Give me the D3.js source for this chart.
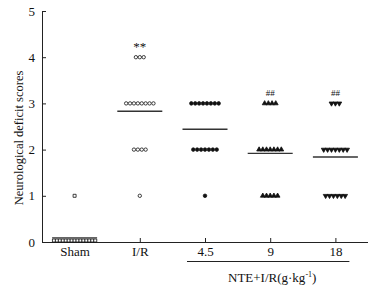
<!DOCTYPE html>
<html><head><meta charset="utf-8">
<script src="https://cdn.jsdelivr.net/npm/d3@7"></script>
<style>body{margin:0;background:#fff}svg{display:block}text{font-family:"Liberation Serif","Times New Roman",serif;fill:#111}</style>
</head><body>
<script>
const categories = ["Sham","I/R","4.5","9","18"];
const shamScores = [0,0,0,0,0,0,0,0,0,0,0,0,0,0,0,1];
const irScores   = [4,4,4,3,3,3,3,3,3,3,3,2,2,2,2,1];
const nte45Scores= [3,3,3,3,3,3,3,3,2,2,2,2,2,2,2,1];
const nte9Scores = [3,3,3,3,2,2,2,2,2,2,2,1,1,1,1,1];
const nte18Scores= [3,3,3,2,2,2,2,2,2,2,1,1,1,1,1,1];
const meanValues = [0.09, 2.83, 2.44, 1.92, 1.84];
const marks = ["", "**", "", "##", "##"];
const yTicks = [0,1,2,3,4,5];
const groupLabel = "NTE+I/R(g·kg";

const W=373,H=286;
const svg=d3.select("body").append("svg").attr("width",W).attr("height",H);
const x=d3.scalePoint().domain(categories).range([42,368]).padding(0.5);
const y=d3.scaleLinear().domain([0,5]).range([242,11]);

// axes
const yAx=svg.append("g").attr("transform","translate(42,0)")
  .call(d3.axisLeft(y).tickValues(yTicks).tickSize(-4).tickPadding(7).tickFormat(d3.format("d")));
const xAx=svg.append("g").attr("transform","translate(0,242)")
  .call(d3.axisBottom(x).tickSize(-4).tickPadding(5));
[yAx,xAx].forEach(g=>{g.select(".domain").attr("stroke","#222").attr("stroke-width",1);
  g.selectAll(".tick line").attr("stroke","#222");
  g.selectAll("text").attr("font-size",13).attr("font-family","Liberation Serif").attr("fill","#111");});
xAx.select(".domain").attr("d","M42,0.5H368");
xAx.selectAll(".tick").filter(d=>d==="Sham").select("line").remove();

// y label
svg.append("text").attr("transform","translate(23,138) rotate(-90)").attr("text-anchor","middle")
  .attr("font-size",12.5).text("Neurological deficit scores");

const groups=[shamScores,irScores,nte45Scores,nte9Scores,nte18Scores];
const sym=[d3.symbolSquare,d3.symbolCircle,d3.symbolCircle,d3.symbolTriangle,d3.symbolTriangle];
const filled=[false,false,true,true,true];
const sizes=[9,9,10,10,10];
const spacing=[2.95,3.9,3.9,3.7,3.9];

groups.forEach((scores,gi)=>{
  const cat=categories[gi];
  const byVal=d3.group(scores,v=>v);
  byVal.forEach((arr,v)=>{
    const n=arr.length;
    arr.forEach((_,i)=>{
      const cx=x(cat)+(i-(n-1)/2)*spacing[gi];
      let cy=y(v); if(v===0) cy-=1.5;
      svg.append("path").attr("d",d3.symbol().type(sym[gi]).size(sizes[gi])())
        .attr("transform",`translate(${cx},${cy})${gi===4?" rotate(180)":""}`)
        .attr("stroke","#111").attr("stroke-width",0.8)
        .attr("fill",filled[gi]?"#111":"#fff");
    });
  });
  // mean line
  svg.append("line").attr("x1",x(cat)-22.5).attr("x2",x(cat)+22.5)
    .attr("y1",y(meanValues[gi])).attr("y2",y(meanValues[gi]))
    .attr("stroke","#333").attr("stroke-width",1.3);
  if(marks[gi]){
    const top=d3.max(scores);
    const star=marks[gi]==="**";
    svg.append("text").attr("x",x(cat)).attr("y",y(top)-(star?6:7)).attr("text-anchor","middle")
      .attr("font-size",star?13:9).attr("fill","#333").text(marks[gi]);
  }
});

// bracket
svg.append("line").attr("x1",x("4.5")-18).attr("x2",x("18")+14).attr("y1",261.5).attr("y2",261.5)
  .attr("stroke","#222").attr("stroke-width",1);
const t=svg.append("text").attr("x",(x("4.5")+x("18"))/2+2).attr("y",282).attr("text-anchor","middle").attr("font-size",13);
t.append("tspan").text(groupLabel);
t.append("tspan").attr("dy",-5).attr("font-size",8).text("-1");
t.append("tspan").attr("dy",5).text(")");
</script>
</body></html>
